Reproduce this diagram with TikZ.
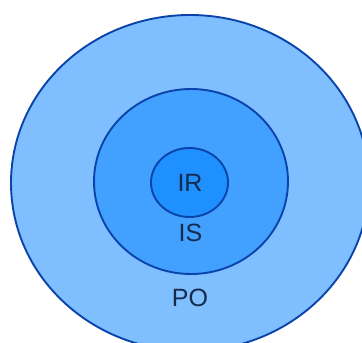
\documentclass[tikz,border=0pt]{standalone}
\usepackage{fontspec}
\setmainfont{Liberation Sans}
\definecolor{outerfill}{HTML}{80BFFF}
\definecolor{midfill}{HTML}{42A1FF}
\definecolor{innerfill}{HTML}{1E90FF}
\definecolor{ringline}{HTML}{0A44AA}
\definecolor{labeltext}{HTML}{162A4C}
\tikzset{
  ring/.style={draw=ringline, line width=1.9pt},
  lbl/.style={text=labeltext, font=\fontsize{25}{25}\selectfont, inner sep=0pt, anchor=center},
}
\begin{document}
\begin{tikzpicture}[x=1pt,y=1pt]
\useasboundingbox (0,0) rectangle (362,343);
\clip (0,0) rectangle (362,343);
\filldraw[ring, fill=outerfill] (190,160) ellipse [x radius=179, y radius=168];
\filldraw[ring, fill=midfill] (191,161.5) ellipse [x radius=97, y radius=92.5];
\filldraw[ring, fill=innerfill] (189.5,160.5) ellipse [x radius=38.5, y radius=34.5];
\node[lbl] (ir) at (190,160.5) {IR};
\node[lbl] (is) at (190.5,110.5) {IS};
\node[lbl] (po) at (190,45.5) {PO};
\end{tikzpicture}
\end{document}
